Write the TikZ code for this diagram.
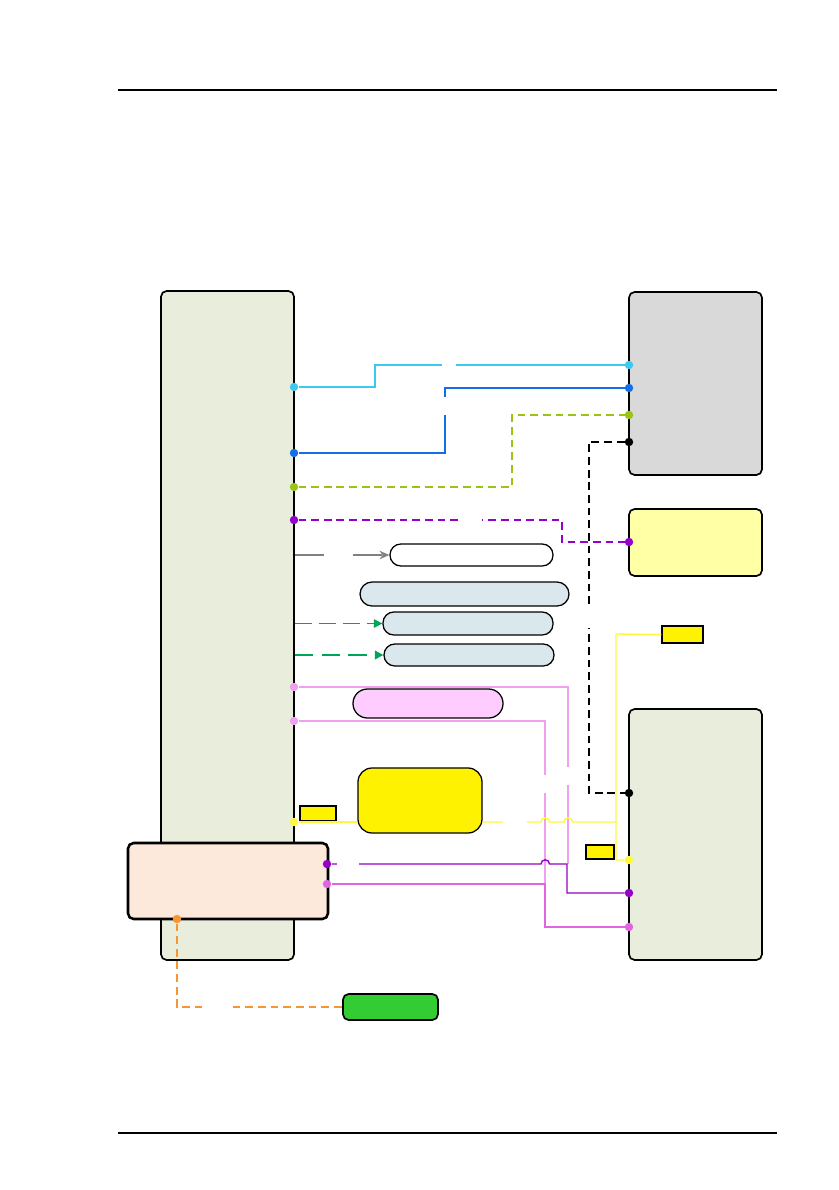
\documentclass[tikz,border=0pt]{standalone}
\usepackage{xcolor}
\definecolor{boardgreen}{RGB}{233,238,220}
\definecolor{panelgray}{RGB}{217,217,217}
\definecolor{paleyellow}{RGB}{255,255,166}
\definecolor{paleblue}{RGB}{218,232,238}
\definecolor{palepink}{RGB}{255,204,255}
\definecolor{peach}{RGB}{252,233,220}
\definecolor{ledgreen}{RGB}{51,204,51}
\definecolor{skyline}{RGB}{60,200,240}
\definecolor{blueline}{RGB}{20,110,230}
\definecolor{oliveline}{RGB}{155,195,20}
\definecolor{purpleline}{RGB}{150,0,200}
\definecolor{pinkline}{RGB}{240,160,240}
\definecolor{magentaline}{RGB}{225,100,225}
\definecolor{yellowline}{RGB}{255,248,60}
\definecolor{orangeline}{RGB}{245,150,50}
\definecolor{arrowgreen}{RGB}{0,165,90}
\usepackage{tikz}
\usetikzlibrary{fit,arrows.meta}

\begin{document}
\begin{tikzpicture}[x=0.025cm, y=-0.025cm,
  board/.style={draw, line width=1.2pt, rounded corners=4pt, inner sep=0pt},
  pill/.style={draw, line width=0.9pt, rounded corners=2.7mm, inner sep=0pt},
  tag/.style={draw, line width=0.9pt, fill=yellow, inner sep=0pt},
  dot/.style={circle, fill=#1, inner sep=0pt, minimum size=6pt},
  wire/.style={line width=1.3pt, draw=#1},
  thinwire/.style={line width=1pt, draw=#1},
  dwire/.style={line width=1.3pt, draw=#1, dash pattern=on 5.5pt off 3.5pt}]
  \useasboundingbox (0,0) rectangle (838,1190);

  % Page rules
  \draw[line width=0.9pt] (118,90) -- (777,90);
  \draw[line width=0.9pt] (118,1133) -- (777,1133);

  % Boards and panels
  \node[board, fill=boardgreen, fit={(161,291) (294,960)}] (mainboard) {};
  \node[board, fill=panelgray, fit={(629,292) (762,475)}] (panel) {};
  \node[board, fill=paleyellow, fit={(629,509) (762,576)}] (module) {};
  \node[board, fill=boardgreen, fit={(629,709) (762,960)}] (sideboard) {};
  \node[board, fill=peach, line width=1.8pt, fit={(128,843) (328,919)}] (bridge) {};
  \node[board, fill=ledgreen, fit={(343,994) (438,1020)}] (indicator) {};

  % Services
  \node[pill, fill=white, fit={(390,544) (553,566)}] (svcA) {};
  \node[pill, fill=paleblue, rounded corners=3mm, fit={(360,582) (569,606)}] (svcB) {};
  \node[pill, fill=paleblue, fit={(383,612) (553,635)}] (svcC) {};
  \node[pill, fill=paleblue, fit={(384,644) (554,666)}] (svcD) {};
  \node[pill, fill=palepink, rounded corners=3.6mm, fit={(353,689) (503,718)}] (svcE) {};
  \node[pill, fill=yellow, rounded corners=3.5mm, fit={(358,768) (482,833)}] (hub) {};

  % Tags
  \node[tag, fit={(300,806) (336,821)}] (tagL) {};
  \node[tag, fit={(662,626) (703,643)}] (tagT) {};
  \node[tag, fit={(586,845) (614,859)}] (tagR) {};

  % Pins
  \node[dot=skyline] (pA) at (294,387) {};
  \node[dot=blueline] (pB) at (294,453) {};
  \node[dot=oliveline] (pC) at (294,487) {};
  \node[dot=purpleline] (pD) at (294,520) {};
  \node[dot=pinkline] (pE) at (294,687) {};
  \node[dot=pinkline] (pF) at (294,721) {};
  \node[dot=yellowline] (pG) at (294,822) {};
  \node[dot=skyline] (qA) at (629,365) {};
  \node[dot=blueline] (qB) at (629,388) {};
  \node[dot=oliveline] (qC) at (629,415) {};
  \node[dot=black] (qD) at (629,442) {};
  \node[dot=purpleline] (qE) at (629,542) {};
  \node[dot=black] (rA) at (629,793) {};
  \node[dot=yellowline] (rB) at (629,860) {};
  \node[dot=purpleline] (rC) at (629,893) {};
  \node[dot=magentaline] (rD) at (629,927) {};
  \node[dot=purpleline] (bA) at (327,864) {};
  \node[dot=magentaline] (bB) at (327,884) {};
  \node[dot=orangeline] (bC) at (177,919) {};

  % Connectors to the panel and module
  \draw[wire=skyline] (pA) -- (375,387) -- (375,365) -- (qA);
  \draw[wire=blueline] (pB) -- (445,453) -- (445,388) -- (qB);
  \draw[dwire=oliveline] (pC) -- (512,487) -- (512,415) -- (qC);
  \draw[dwire=black] (qD) -- (589,442) -- (589,793) -- (rA);
  \draw[dwire=purpleline] (pD) -- (562,520) -- (562,542) -- (qE);

  % Service arrows
  \draw[line width=1.6pt, gray, dash pattern=on 21pt off 20pt, -{Stealth[length=7pt,width=6pt]}]
    (mainboard.east |- svcA) -- (svcA.west);
  \draw[line width=1pt, arrowgreen, dash pattern=on 12pt off 5pt, -{Triangle[length=6pt,width=6pt]}]
    (mainboard.east |- svcC) -- (svcC.west);
  \draw[line width=1.5pt, arrowgreen, dash pattern=on 13pt off 6pt, -{Triangle[length=6pt,width=6pt]}]
    (mainboard.east |- svcD) -- (svcD.west);

  % Connectors to the side board
  \draw[thinwire=pinkline] (pE) -- (568,687) -- (568,864);
  \draw[thinwire=pinkline] (pF) -- (545,721) -- (545,884);
  \draw[thinwire=magentaline] (bB) -- (545,884) -- (545,927) -- (rD);
  \draw[thinwire=purpleline] (bA) -- (541,864) arc[start angle=180, end angle=0, radius=3pt]
    -- (567,864) -- (567,893) -- (rC);
  \draw[thinwire=yellowline] (pG) -- (pG -| hub.west);
  \draw[thinwire=yellowline] (pG -| hub.east) -- (541,822) arc[start angle=180, end angle=0, radius=3pt]
    -- (564,822) arc[start angle=180, end angle=0, radius=3pt] -- (616,822);
  \draw[thinwire=yellowline] (rB) -- (616,860) -- (616,634) -- (tagT.west);
  \draw[dwire=orangeline] (bC) |- (indicator.west);

  % Label gaps
  \fill[white] (442,360) rectangle (456,370);
  \fill[white] (440,397) rectangle (450,415);
  \fill[white] (463,515) rectangle (482,525);
  \fill[white] (584,608) rectangle (594,628);
  \fill[white] (563,767) rectangle (573,785);
  \fill[white] (540,775) rectangle (550,793);
  \fill[white] (503,817) rectangle (527,827);
  \fill[white] (337,859) rectangle (359,869);
  \fill[white] (202,1000) rectangle (228,1013);
\end{tikzpicture}
\end{document}
